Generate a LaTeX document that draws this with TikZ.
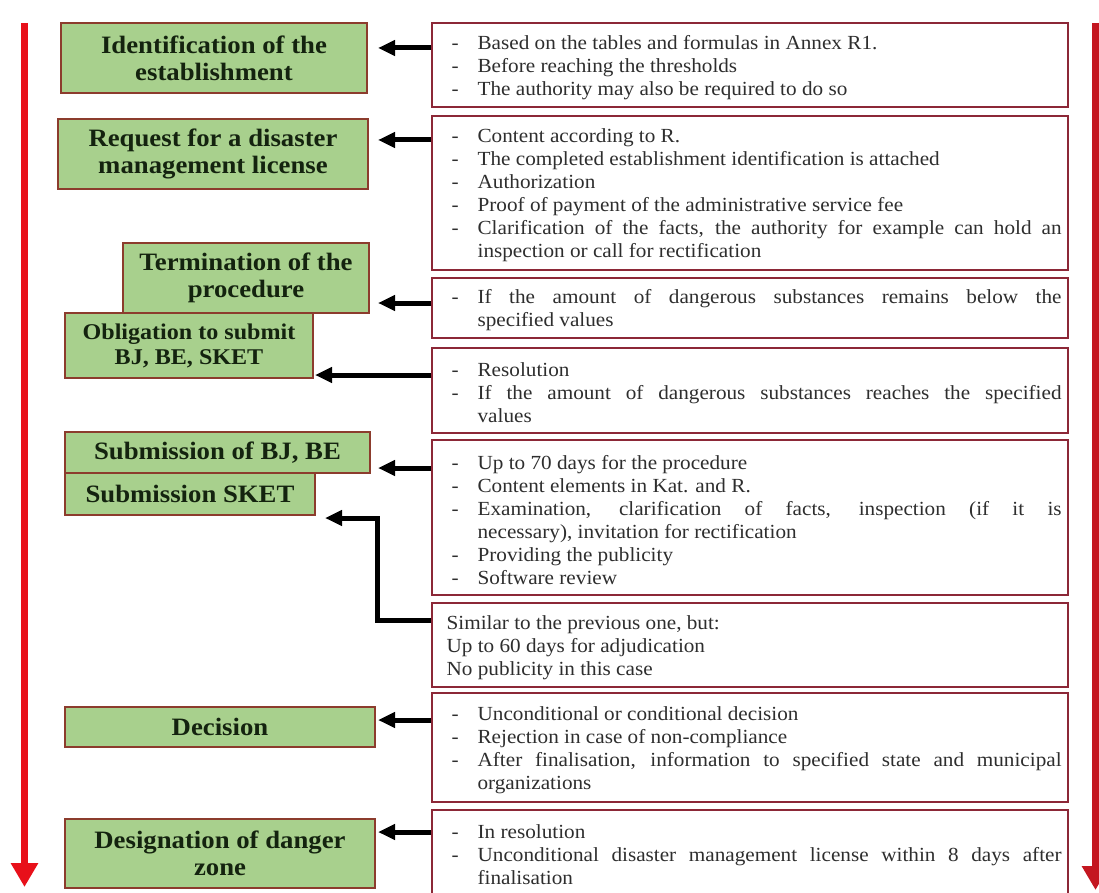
\documentclass[tikz,border=0pt]{standalone}
\usepackage{fontspec}
\setmainfont{Liberation Serif}
\newfontfamily\lbf[FakeStretch=1.07]{Liberation Serif}
\newfontfamily\rtf[FakeStretch=1.06]{Liberation Serif}
\usetikzlibrary{arrows.meta}
\definecolor{gfill}{RGB}{168,208,141}
\definecolor{gborder}{RGB}{140,60,45}
\definecolor{gtext}{RGB}{20,35,15}
\definecolor{rborder}{RGB}{140,40,55}
\definecolor{redL}{RGB}{232,16,26}
\definecolor{redR}{RGB}{196,22,32}
\newenvironment{dlist}{\begin{list}{-}{\setlength\leftmargin{26pt}\setlength\labelwidth{26pt}%
  \setlength\labelsep{0pt}\setlength\itemsep{0pt}\setlength\parsep{0pt}\setlength\topsep{0pt}%
  \setlength\partopsep{0pt}\setlength\itemindent{0pt}\renewcommand\makelabel[1]{##1\hfil}}}{\end{list}}
\newcommand\pln[1]{\par\noindent #1}
\tikzset{
  lbox/.style={draw=gborder, fill=gfill, line width=1.4pt, inner sep=0pt, text=gtext, align=center,
    font=\lbf\bfseries\fontsize{25}{27}\selectfont},
  rbox/.style={draw=rborder, fill=white, line width=1.2pt, inner sep=0pt, minimum width=636pt},
  rtext/.style={anchor=west, inner sep=0pt, text width=610pt, align=justify, text=black!82,
    font=\rtf\fontsize{20}{23}\selectfont, yshift=2pt},
  blk/.style={line width=5pt, -{Triangle[length=17pt,width=15pt]}},
  redarrow/.style={line width=7pt, -{Triangle[length=24pt,width=26pt]}},
}
\begin{document}
\begin{tikzpicture}[x=1pt,y=-1pt]
\useasboundingbox (0,0) rectangle (1099,893);
\clip (0,0) rectangle (1099,893);
\fill[white] (0,0) rectangle (1099,893);

% red time arrows
\coordinate (ls) at (24.5,23);
\coordinate (le) at (24.5,887);
\draw[redarrow, redL] (ls) -- (le);
\coordinate (rs) at (1095.5,23);
\coordinate (re) at (1095.5,890);
\draw[redarrow, redR] (rs) -- (re);

% left green boxes
\node[lbox, minimum width=306pt, minimum height=70pt] (lb1) at (214,58) {Identification of the\\establishment};
\node[lbox, minimum width=310pt, minimum height=70pt] (lb2) at (213,154) {Request for a disaster\\management license};
\node[lbox, minimum width=246pt, minimum height=70pt] (lb3) at (246,278) {Termination of the\\procedure};
\node[lbox, minimum width=248pt, minimum height=65pt, font=\lbf\bfseries\fontsize{22.5}{25}\selectfont] (lb4) at (189,345.5) {Obligation to submit\\BJ, BE, SKET};
\node[lbox, minimum width=305pt, minimum height=41pt] (lb5) at (217.5,452.5) {Submission of BJ, BE};
\node[lbox, minimum width=250pt, minimum height=42pt] (lb6) at (190,494) {Submission SKET};
\node[lbox, minimum width=310pt, minimum height=40pt] (lb7) at (220,727) {Decision};
\node[lbox, minimum width=310pt, minimum height=69pt] (lb8) at (220,853.5) {Designation of danger\\zone};

% right boxes
\node[rbox, minimum height=84pt] (rb1) at (750,65) {};
\node[rbox, minimum height=154pt] (rb2) at (750,193) {};
\node[rbox, minimum height=60pt] (rb3) at (750,308) {};
\node[rbox, minimum height=85pt] (rb4) at (750,390.5) {};
\node[rbox, minimum height=155pt] (rb5) at (750,517.5) {};
\node[rbox, minimum height=84pt] (rb6) at (750,645) {};
\node[rbox, minimum height=109pt] (rb7) at (750,747.5) {};
\node[rbox, minimum height=85pt] (rb8) at (750,852.5) {};

\node[rtext] (rt1) at ([xshift=20pt]rb1.west) {\begin{dlist}
\item Based on the tables and formulas in Annex R1.
\item Before reaching the thresholds
\item The authority may also be required to do so
\end{dlist}};
\node[rtext] (rt2) at ([xshift=20pt]rb2.west) {\begin{dlist}
\item Content according to R.
\item The completed establishment identification is attached
\item Authorization
\item Proof of payment of the administrative service fee
\item Clarification of the facts, the authority for example can hold an\linebreak inspection or call for rectification
\end{dlist}};
\node[rtext] (rt3) at ([xshift=20pt]rb3.west) {\begin{dlist}
\item If the amount of dangerous substances remains below the\linebreak specified values
\end{dlist}};
\node[rtext] (rt4) at ([xshift=20pt]rb4.west) {\begin{dlist}
\item Resolution
\item If the amount of dangerous substances reaches the specified\linebreak values
\end{dlist}};
\node[rtext] (rt5) at ([xshift=20pt]rb5.west) {\begin{dlist}
\item Up to 70 days for the procedure
\item Content elements in Kat. and R.
\item Examination, clarification of facts, inspection (if it is\linebreak necessary), invitation for rectification
\item Providing the publicity
\item Software review
\end{dlist}};
\node[rtext] (rt6) at ([xshift=15pt]rb6.west) {%
\pln{Similar to the previous one, but:}
\pln{Up to 60 days for adjudication}
\pln{No publicity in this case}};
\node[rtext] (rt7) at ([xshift=20pt]rb7.west) {\begin{dlist}
\item Unconditional or conditional decision
\item Rejection in case of non-compliance
\item After finalisation, information to specified state and municipal\linebreak organizations
\end{dlist}};
\node[rtext] (rt8) at ([xshift=20pt]rb8.west) {\begin{dlist}
\item In resolution
\item Unconditional disaster management license within 8 days after\linebreak finalisation
\end{dlist}};

% black connectors
\coordinate (t1) at (378,48);
\coordinate (t2) at (378,140);
\coordinate (t3) at (378,303);
\coordinate (t4) at (315,375);
\coordinate (t5) at (378,468);
\coordinate (e6) at (377,620);
\coordinate (t6) at (325,518);
\coordinate (t7) at (378,720);
\coordinate (t8) at (378,832);
\draw[blk] (rb1.west |- t1) -- (t1);
\draw[blk] (rb2.west |- t2) -- (t2);
\draw[blk] (rb3.west |- t3) -- (t3);
\draw[blk] (rb4.west |- t4) -- (t4);
\draw[blk] (rb5.west |- t5) -- (t5);
\draw[blk] (rb6.west |- e6) -- (e6) |- (t6);
\draw[blk] (rb7.west |- t7) -- (t7);
\draw[blk] (rb8.west |- t8) -- (t8);
\end{tikzpicture}
\end{document}
